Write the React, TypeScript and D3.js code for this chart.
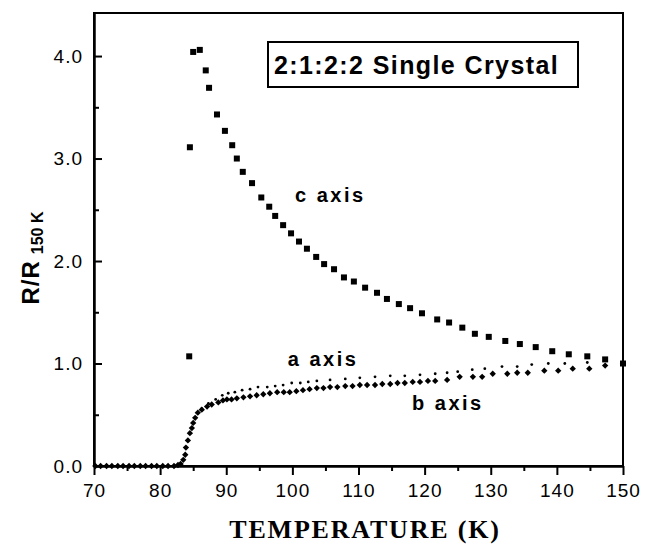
import React, { useRef, useEffect } from 'react';
import * as d3 from 'd3';

// c axis (filled squares)
const cTemps = [84.4, 84.5, 85.0, 86.0, 86.9, 87.4, 88.6, 89.8, 90.9, 91.6, 92.5, 93.9, 95.3, 96.5, 97.4,
  98.6, 99.8, 101.0, 102.2, 103.6, 104.8, 106.3, 107.8, 109.3, 111.0, 112.8, 114.3, 116.1, 117.8, 119.6,
  121.9, 123.7, 125.7, 127.6, 129.7, 132.2, 134.4, 136.8, 139.3, 141.8, 144.6, 147.3, 150.0];
const cValues = [1.07, 3.11, 4.04, 4.06, 3.86, 3.69, 3.43, 3.27, 3.13, 3.00, 2.87, 2.76, 2.62, 2.53, 2.44,
  2.35, 2.27, 2.19, 2.12, 2.04, 1.97, 1.92, 1.84, 1.80, 1.74, 1.69, 1.63, 1.58, 1.54, 1.49,
  1.43, 1.40, 1.35, 1.29, 1.26, 1.22, 1.19, 1.16, 1.12, 1.09, 1.07, 1.04, 1.00];

// b axis (diamonds)
const bTemps = [70.2, 71.0, 71.9, 72.7, 73.6, 74.4, 75.3, 76.1, 77.0, 77.8, 78.7, 79.5, 80.4, 81.2, 82.1,
  82.7, 83.1, 83.5, 83.8, 83.9, 84.2, 84.5, 84.8, 85.0, 85.3, 85.7, 86.3, 87.1, 87.8, 88.8, 89.5, 90.1,
  90.8, 91.6, 92.6, 93.6, 94.6, 95.6, 96.6, 97.7, 98.7, 99.6, 100.6, 101.6, 102.6, 103.7, 104.7, 105.7,
  106.8, 108.0, 109.1, 110.2, 111.3, 112.5, 113.6, 114.8, 115.9, 117.0, 118.2, 119.3, 120.5, 121.6,
  123.4, 125.3, 127.3, 128.7, 130.3, 132.5, 134.0, 135.6, 138.1, 140.2, 142.4, 144.9, 147.3, 150.0];
const bValues = [0.0, 0.0, 0.0, 0.0, 0.0, 0.0, 0.0, 0.0, 0.0, 0.0, 0.0, 0.0, 0.0, 0.0, 0.0,
  0.01, 0.02, 0.06, 0.11, 0.18, 0.25, 0.32, 0.37, 0.42, 0.47, 0.52, 0.55, 0.58, 0.60, 0.62, 0.64, 0.65,
  0.65, 0.66, 0.67, 0.68, 0.69, 0.70, 0.71, 0.72, 0.72, 0.72, 0.73, 0.74, 0.75, 0.76, 0.76, 0.77,
  0.77, 0.78, 0.78, 0.79, 0.79, 0.79, 0.80, 0.80, 0.81, 0.81, 0.82, 0.82, 0.83, 0.83,
  0.84, 0.87, 0.87, 0.87, 0.90, 0.90, 0.91, 0.91, 0.93, 0.93, 0.95, 0.95, 0.98, 1.00];

// a axis (small dots)
const aTemps = [86.3, 87.3, 88.4, 89.4, 90.3, 91.3, 92.4, 93.6, 94.8, 96.2, 97.4, 98.6, 99.9, 101.2,
  102.4, 103.7, 105.7, 108.0, 110.2, 112.5, 114.8, 117.0, 119.3, 121.6, 123.4, 125.0, 127.2, 129.1,
  131.7, 134.0, 136.2, 138.7, 141.2, 144.6];
const aValues = [0.56, 0.61, 0.65, 0.69, 0.71, 0.72, 0.74, 0.75, 0.77, 0.77, 0.78, 0.79, 0.81, 0.81,
  0.82, 0.83, 0.84, 0.85, 0.86, 0.87, 0.88, 0.88, 0.89, 0.90, 0.91, 0.92, 0.94, 0.95,
  0.97, 0.97, 0.99, 1.00, 1.00, 1.01];

const xMajorTicks = [70, 80, 90, 100, 110, 120, 130, 140, 150];
const xMinorTicks = [75, 85, 95, 105, 115, 125, 135, 145];
const yMajorTicks = [0, 1, 2, 3, 4];
const yMinorTicks = [0.5, 1.5, 2.5, 3.5];
const yTickLabels = ['0.0', '1.0', '2.0', '3.0', '4.0'];

const SANS = '"Liberation Sans", Arial, Helvetica, sans-serif';
const SERIF = '"Liberation Serif", "Times New Roman", serif';

const App = () => {
  const svgRef = useRef(null);

  useEffect(() => {
    const svg = d3.select(svgRef.current);
    svg.selectAll('*').remove();

    const x = d3.scaleLinear().domain([70, 150]).range([94, 623]);
    const y = d3.scaleLinear().domain([0, 4.42]).range([466, 13]);

    // frame
    svg.append('rect')
      .attr('x', x(70)).attr('y', y(4.42))
      .attr('width', x(150) - x(70)).attr('height', y(0) - y(4.42))
      .attr('fill', 'none').attr('stroke', '#000').attr('stroke-width', 2);

    // x axis: ticks point down
    const xMajor = svg.append('g')
      .attr('transform', `translate(0,${y(0)})`)
      .call(d3.axisBottom(x).tickValues(xMajorTicks).tickSize(9).tickSizeOuter(0).tickPadding(9));
    svg.append('g')
      .attr('transform', `translate(0,${y(0)})`)
      .call(d3.axisBottom(x).tickValues(xMinorTicks).tickSize(5).tickSizeOuter(0).tickFormat(() => ''));

    // y axis: ticks point inward
    const yMajor = svg.append('g')
      .attr('transform', `translate(${x(70)},0)`)
      .call(d3.axisLeft(y).tickValues(yMajorTicks).tickSize(-8).tickSizeOuter(0).tickPadding(11)
        .tickFormat((d, i) => yTickLabels[i]));
    svg.append('g')
      .attr('transform', `translate(${x(70)},0)`)
      .call(d3.axisLeft(y).tickValues(yMinorTicks).tickSize(-5).tickSizeOuter(0).tickFormat(() => ''));

    svg.selectAll('.domain').attr('stroke-width', 2);
    svg.selectAll('.tick line').attr('stroke-width', 2);
    [xMajor, yMajor].forEach((g) => g.selectAll('text')
      .attr('font-family', SANS).attr('font-size', 19).attr('letter-spacing', 1).attr('fill', '#000'));

    // b axis diamonds
    const diamond = d3.symbol().type(d3.symbolSquare).size(20)();
    svg.append('g').selectAll('path')
      .data(bTemps.map((t, i) => [t, bValues[i]]))
      .enter().append('path')
      .attr('d', diamond)
      .attr('transform', (d) => `translate(${x(d[0])},${y(d[1])}) rotate(45)`)
      .attr('fill', '#000');

    // a axis dots
    svg.append('g').selectAll('circle')
      .data(aTemps.map((t, i) => [t, aValues[i]]))
      .enter().append('circle')
      .attr('cx', (d) => x(d[0]))
      .attr('cy', (d) => y(d[1]))
      .attr('r', 1.4)
      .attr('fill', '#000');

    // c axis squares
    svg.append('g').selectAll('rect')
      .data(cTemps.map((t, i) => [t, cValues[i]]))
      .enter().append('rect')
      .attr('x', (d) => x(d[0]) - 3)
      .attr('y', (d) => y(d[1]) - 3)
      .attr('width', 6)
      .attr('height', 6)
      .attr('fill', '#000');

    // series labels
    const labels = [
      { text: 'c axis', t: 100.4, r: 2.58 },
      { text: 'a axis', t: 99.3, r: 0.98 },
      { text: 'b axis', t: 118.1, r: 0.55 },
    ];
    svg.append('g').selectAll('text')
      .data(labels)
      .enter().append('text')
      .attr('x', (d) => x(d.t))
      .attr('y', (d) => y(d.r))
      .attr('font-family', SANS).attr('font-weight', 'bold')
      .attr('font-size', 20).attr('letter-spacing', 2.5)
      .text((d) => d.text);

    // title box
    svg.append('rect')
      .attr('x', 268).attr('y', 42).attr('width', 310).attr('height', 45)
      .attr('fill', 'none').attr('stroke', '#000').attr('stroke-width', 2);
    svg.append('text')
      .attr('x', 274).attr('y', 74)
      .attr('font-family', SANS).attr('font-weight', 'bold')
      .attr('font-size', 25).attr('letter-spacing', 1.4)
      .text('2:1:2:2 Single Crystal');

    // axis titles
    svg.append('text')
      .attr('x', 365).attr('y', 538)
      .attr('text-anchor', 'middle')
      .attr('font-family', SERIF).attr('font-weight', 'bold')
      .attr('font-size', 26).attr('letter-spacing', 1.8)
      .text('TEMPERATURE (K)');

    const yTitle = svg.append('text')
      .attr('transform', 'translate(39,258) rotate(-90)')
      .attr('text-anchor', 'middle')
      .attr('font-family', SANS).attr('font-weight', 'bold');
    yTitle.append('tspan').attr('font-size', 24).attr('letter-spacing', 1).text('R/R');
    yTitle.append('tspan').attr('font-size', 16).attr('dx', 6).attr('dy', 4).text('150 K');
  }, []);

  return (
    <div>
      <svg ref={svgRef} width={655} height={544}
        style={{ position: 'absolute', left: 0, top: 0, background: '#fff' }} />
    </div>
  );
};

export default App;
